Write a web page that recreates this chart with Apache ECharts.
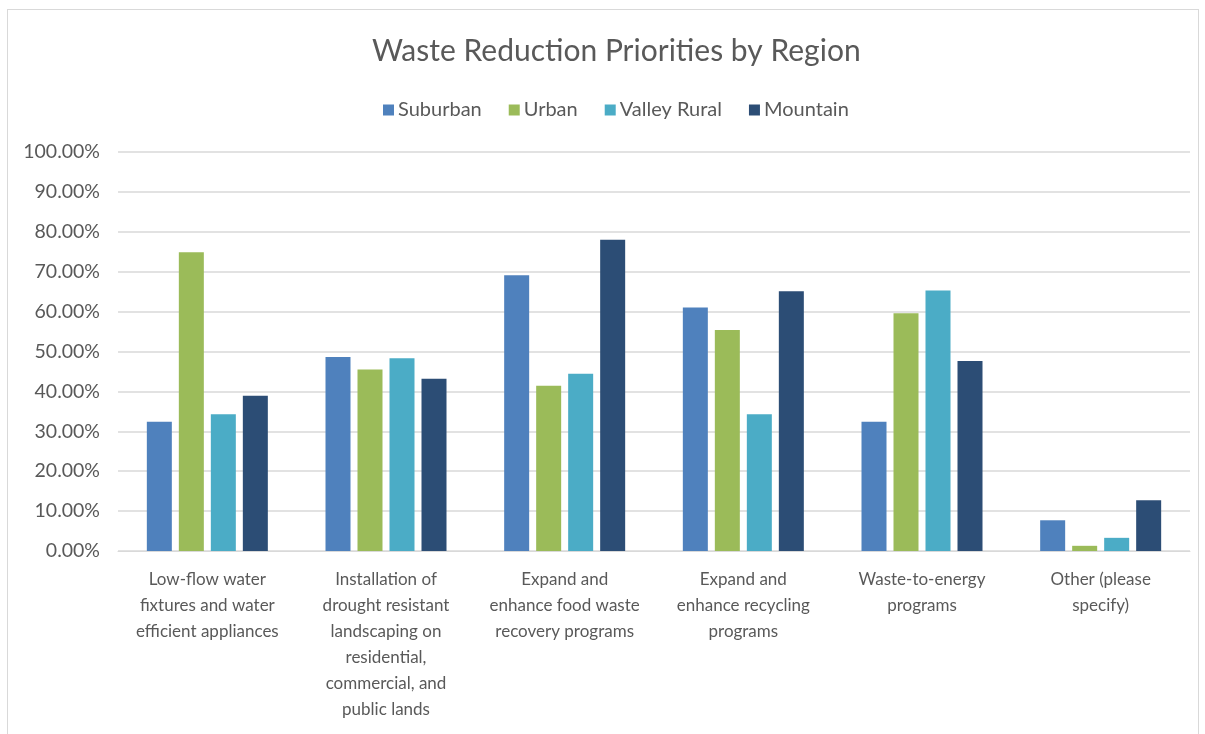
<!DOCTYPE html>
<html>
<head>
<meta charset="utf-8">
<script src="https://cdn.jsdelivr.net/npm/echarts@6/dist/echarts.min.js"></script>
<style>
  html, body { margin: 0; padding: 0; background: #fff; }
  #frame { position: absolute; left: 7px; top: 9px; width: 1192px; height: 730px; border: 1px solid #d9d9d9; box-sizing: border-box; }
  #chart { position: absolute; left: 0; top: 0; width: 1205px; height: 734px; }
</style>
</head>
<body>
<div id="frame"></div>
<div id="chart"></div>
<script>
const categories = [
  'Low-flow water\nfixtures and water\nefficient appliances',
  'Installation of\ndrought resistant\nlandscaping on\nresidential,\ncommercial, and\npublic lands',
  'Expand and\nenhance food waste\nrecovery programs',
  'Expand and\nenhance recycling\nprograms',
  'Waste-to-energy\nprograms',
  'Other (please\nspecify)'
]
const suburban = [32.4, 48.6, 69.1, 61.0, 32.4, 7.7]
const urban = [74.9, 45.5, 41.4, 55.4, 59.6, 1.3]
const valleyRural = [34.3, 48.3, 44.4, 34.3, 65.3, 3.3]
const mountain = [38.9, 43.2, 78.0, 65.1, 47.6, 12.7]

const font = 'Lato, "Liberation Sans", sans-serif'
const textColor = '#595959'

const myChart = echarts.init(document.getElementById('chart'))

const makeSeries = (name, data, color) => ({
  name: name,
  type: 'bar',
  data: data,
  barWidth: 25,
  barGap: '28%',
  itemStyle: { color: color }
})

myChart.setOption({
  animation: false,
  color: ['#4f81bd', '#9bbb59', '#4bacc6', '#2c4d75'],
  title: {
    text: 'Waste Reduction Priorities by Region',
    left: 367,
    top: 31,
    textStyle: { fontFamily: font, fontSize: 30, fontWeight: 'normal', color: textColor }
  },
  legend: {
    top: 95,
    left: 378,
    itemWidth: 11,
    itemHeight: 11,
    itemGap: 27,
    icon: 'rect',
    textStyle: { fontFamily: font, fontSize: 20, color: textColor, padding: [0, 0, 0, -1] }
  },
  grid: { left: 118, right: 15, top: 152, bottom: 183 },
  xAxis: {
    type: 'category',
    data: categories,
    axisLine: { lineStyle: { color: '#d9d9d9', width: 1 } },
    axisTick: { show: false },
    axisLabel: {
      interval: 0,
      fontFamily: font,
      fontSize: 17,
      lineHeight: 26,
      color: textColor,
      margin: 16
    }
  },
  yAxis: {
    type: 'value',
    min: 0,
    max: 100,
    interval: 10,
    axisLine: { show: false },
    axisTick: { show: false },
    splitLine: { lineStyle: { color: '#d9d9d9', width: 1.5 } },
    axisLabel: {
      fontFamily: font,
      fontSize: 19.5,
      color: textColor,
      margin: 18,
      formatter: (v) => v.toFixed(2) + '%'
    }
  },
  series: [
    makeSeries('Suburban', suburban, '#4f81bd'),
    makeSeries('Urban', urban, '#9bbb59'),
    makeSeries('Valley Rural', valleyRural, '#4bacc6'),
    makeSeries('Mountain', mountain, '#2c4d75')
  ]
})
</script>
</body>
</html>
